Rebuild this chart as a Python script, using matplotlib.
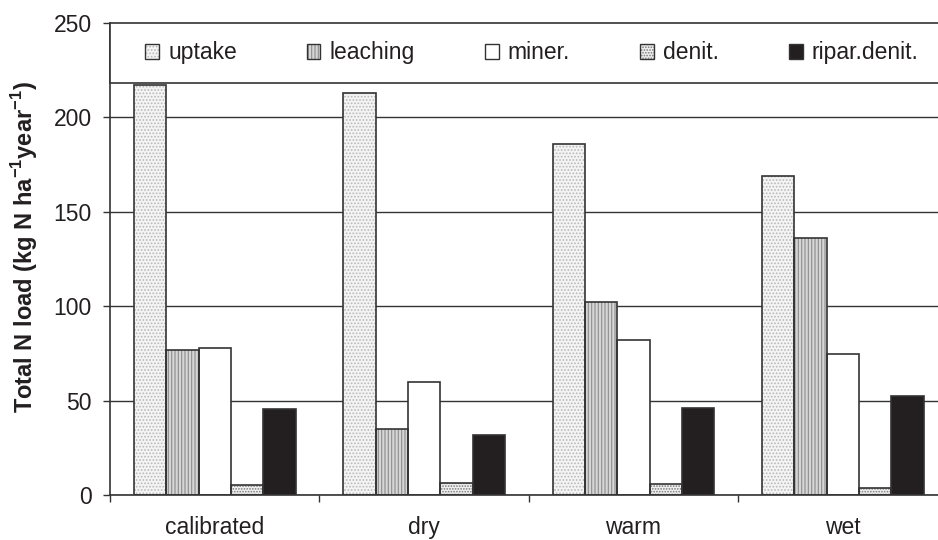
import numpy as np
import matplotlib
matplotlib.use('Agg')
import matplotlib.pyplot as plt
from matplotlib.patches import Patch, Rectangle

# data
scenarios = ['calibrated', 'dry', 'warm', 'wet']
series = ['uptake', 'leaching', 'miner.', 'denit.', 'ripar.denit.']
uptake = [217, 213, 186, 169]
leaching = [77, 35, 102, 136]
miner = [78, 60, 82, 74.5]
denit = [5.3, 6.5, 5.7, 3.9]
ripar = [45.5, 31.7, 46.2, 52.6]

plt.rcParams['font.family'] = ['Liberation Sans', 'DejaVu Sans']
plt.rcParams['mathtext.fontset'] = 'custom'
plt.rcParams['mathtext.rm'] = 'Liberation Sans:bold'
plt.rcParams['mathtext.bf'] = 'Liberation Sans:bold'
plt.rcParams['hatch.linewidth'] = 0.8

ink = '#231f20'
edge = '#333333'
fs = 16.5

# (face, hatch, hatch colour) for each series
styles = [
    ('#f4f4f4', '.....', '#b8b8b8'),
    ('#d6d6d6', '|||||', '#8c8c8c'),
    ('white', None, 'white'),
    ('#eeeeee', '......', '#7a7a7a'),
    (ink, None, ink),
]
values = [uptake, leaching, miner, denit, ripar]

fig = plt.figure(figsize=(9.38, 5.4), dpi=100)
ax = fig.add_axes([110 / 938, 45 / 540, 837.6 / 938, 472 / 540])

x = np.arange(len(scenarios))
w = 0.1547
handles = []
for i, (vals, (fc, hatch, hc)) in enumerate(zip(values, styles)):
    pos = x + (i - 2) * w
    ax.bar(pos, vals, w, color=fc, hatch=hatch, edgecolor=hc, lw=0, zorder=2)
    ax.bar(pos, vals, w, fill=False, edgecolor=edge, lw=1.2, zorder=3)
    handles.append((Patch(facecolor=fc, hatch=hatch, edgecolor=hc, lw=0),
                    Patch(fill=False, edgecolor=edge, lw=1.0)))

ax.set_xlim(-0.5, 3.5)
ax.set_ylim(0, 250)
ax.set_yticks(np.arange(0, 251, 50))
ax.yaxis.grid(True, color=edge, lw=1.0)
ax.set_axisbelow(True)

ax.set_xticks(x)
ax.set_xticklabels(scenarios)
ax.set_xticks(np.arange(-0.5, 4, 1), minor=True)
ax.tick_params(axis='x', which='major', length=0, pad=15, labelsize=fs, labelcolor=ink)
ax.tick_params(axis='x', which='minor', length=5, width=1, color=edge, direction='out')
ax.tick_params(axis='y', length=5, width=1, color=edge, direction='out', pad=8,
               labelsize=fs, labelcolor=ink)

for s in ['top', 'right']:
    ax.spines[s].set_visible(False)
for s in ['left', 'bottom']:
    ax.spines[s].set_color(edge)
    ax.spines[s].set_linewidth(1.2)

ax.set_ylabel('Total N load (kg N ha$^{-1}$year$^{-1}$)', fontsize=fs + 0.5,
              fontweight='bold', color=ink, labelpad=10)
ax.yaxis.label.set_y(0.525)

# legend box spanning the full axes width at the top
ax.add_patch(Rectangle((0, 0.873), 1, 0.127, transform=ax.transAxes,
                       facecolor='white', edgecolor=edge, lw=1.2,
                       zorder=4, clip_on=False))
leg = ax.legend(handles, series, ncol=5, loc='center', mode='expand',
                bbox_to_anchor=(0.031, 0.873, 0.9455, 0.127), borderaxespad=0,
                fontsize=fs, handlelength=0.6, handleheight=0.6,
                handletextpad=0.4, frameon=False)
leg.set_zorder(5)
for t in leg.get_texts():
    t.set_color(ink)

fig.savefig('out.png', dpi=100)
